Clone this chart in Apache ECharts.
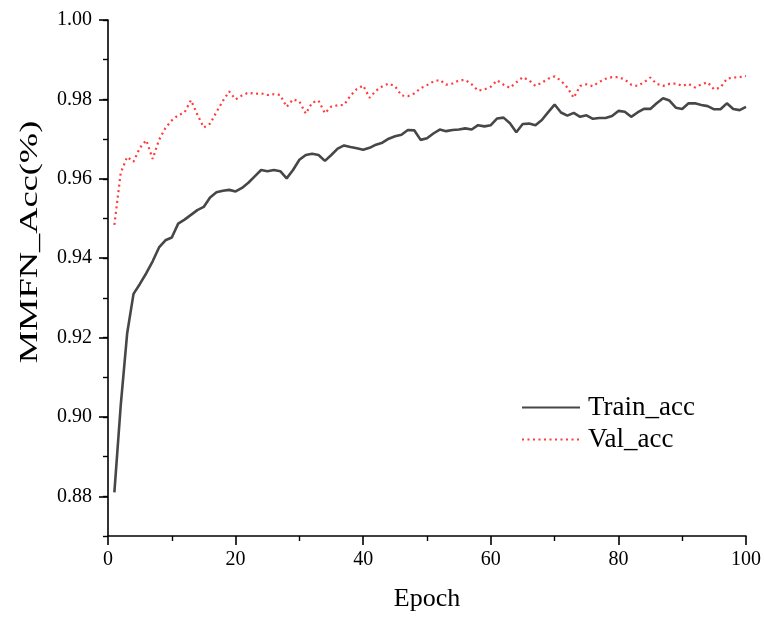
<!DOCTYPE html>
<html>
<head>
<meta charset="utf-8">
<title>MMFN accuracy</title>
<script src="https://cdn.jsdelivr.net/npm/echarts@6/dist/echarts.min.js"></script>
<style>
  html, body { margin: 0; padding: 0; background: #fff; }
  #chart { width: 764px; height: 619px; }
</style>
</head>
<body>
<div id="chart"></div>
<script>
// Training / validation accuracy per epoch
const trainAcc = [
  0.881, 0.903, 0.921, 0.931, 0.9335, 0.9362, 0.9392, 0.9427, 0.9445, 0.9452,
  0.9487, 0.9497, 0.9509, 0.9521, 0.9529, 0.9553, 0.9566, 0.9570, 0.9572, 0.9568,
  0.9577, 0.9590, 0.9606, 0.9622, 0.9619, 0.9622, 0.9619, 0.9601, 0.9622, 0.9648,
  0.9660, 0.9663, 0.9660, 0.9645, 0.9660, 0.9676, 0.9684, 0.9680, 0.9677, 0.9673,
  0.9678, 0.9686, 0.9691, 0.9701, 0.9707, 0.9711, 0.9723, 0.9722, 0.9698, 0.9702,
  0.9714, 0.9724, 0.9720, 0.9723, 0.9724, 0.9727, 0.9724, 0.9735, 0.9732, 0.9735,
  0.9752, 0.9754, 0.9740, 0.9717, 0.9738, 0.9739, 0.9735, 0.9748, 0.9768, 0.9787,
  0.9767, 0.9759, 0.9766, 0.9756, 0.9760, 0.9751, 0.9753, 0.9753, 0.9758, 0.9771,
  0.9769, 0.9756, 0.9767, 0.9776, 0.9776, 0.9790, 0.9803, 0.9797, 0.9779, 0.9776,
  0.9790, 0.9790, 0.9786, 0.9783, 0.9775, 0.9775, 0.9790, 0.9776, 0.9773, 0.9781
];
const valAcc = [
  0.9484, 0.9615, 0.9655, 0.9643, 0.9678, 0.9697, 0.9650, 0.9698, 0.9728, 0.9747,
  0.9760, 0.9767, 0.9798, 0.9762, 0.9729, 0.9739, 0.9768, 0.9796, 0.9820, 0.9800,
  0.9810, 0.9817, 0.9814, 0.9815, 0.9811, 0.9813, 0.9811, 0.9781, 0.9800, 0.9795,
  0.9764, 0.9792, 0.9797, 0.9765, 0.9782, 0.9785, 0.9786, 0.9809, 0.9826, 0.9835,
  0.9804, 0.9822, 0.9833, 0.9840, 0.9833, 0.9810, 0.9808, 0.9815, 0.9828, 0.9836,
  0.9845, 0.9849, 0.9837, 0.9840, 0.9848, 0.9849, 0.9838, 0.9822, 0.9825, 0.9832,
  0.9848, 0.9837, 0.9829, 0.9843, 0.9856, 0.9848, 0.9834, 0.9842, 0.9852, 0.9858,
  0.9847, 0.9830, 0.9804, 0.9834, 0.9838, 0.9833, 0.9844, 0.9852, 0.9856, 0.9856,
  0.9850, 0.9837, 0.9834, 0.9843, 0.9855, 0.9839, 0.9834, 0.9839, 0.9840, 0.9834,
  0.9839, 0.9830, 0.9838, 0.9843, 0.9825, 0.9830, 0.9852, 0.9855, 0.9856, 0.9859
];
const epochs = trainAcc.map((_, i) => i + 1);
const yTickLabels = [0.88, 0.90, 0.92, 0.94, 0.96, 0.98, 1.00];
const seriesNames = ['Train_acc', 'Val_acc'];
const yTitle = 'MMFN_Acc(%)';

const FONT = '"Liberation Serif", "Times New Roman", serif';
const chart = echarts.init(document.getElementById('chart'), null, { renderer: 'canvas' });

const yRange = { min: 0.87, max: 1.0 };

chart.setOption({
  backgroundColor: '#ffffff',
  animation: false,
  grid: { left: 108, right: 17, top: 20, bottom: 83 },
  // vertical y-axis title, drawn a little taller than the tick font
  graphic: [{
    type: 'text',
    x: 30,
    y: 242,
    rotation: Math.PI / 2,
    scaleX: 1.4,
    style: {
      text: yTitle,
      font: '26px "Liberation Serif", "Times New Roman", serif',
      fill: '#000',
      align: 'center',
      verticalAlign: 'middle'
    }
  }],
  legend: {
    orient: 'vertical',
    left: 516,
    top: 389,
    itemWidth: 58,
    itemHeight: 14,
    itemGap: 5,
    data: seriesNames,
    itemStyle: { opacity: 0 },
    textStyle: { fontFamily: FONT, fontSize: 27, color: '#000', padding: [0, 0, 0, 3] }
  },
  xAxis: {
    type: 'value',
    min: 0,
    max: 100,
    interval: 20,
    name: 'Epoch',
    nameLocation: 'middle',
    nameGap: 50,
    nameTextStyle: { fontFamily: FONT, fontSize: 26, color: '#000' },
    axisLine: { show: true, onZero: false, lineStyle: { color: '#000', width: 1.6 } },
    axisTick: { show: true, inside: false, length: 9, lineStyle: { color: '#000', width: 1.6 } },
    minorTick: { show: true, splitNumber: 2, length: 5, lineStyle: { color: '#000', width: 1.4 } },
    axisLabel: { margin: 14, fontFamily: FONT, fontSize: 20, color: '#000' },
    splitLine: { show: false }
  },
  yAxis: [
    {
      // minor ticks every 0.01 along the left axis line
      type: 'value',
      min: yRange.min,
      max: yRange.max,
      interval: 0.01,
      position: 'left',
      axisLine: { show: true, onZero: false, lineStyle: { color: '#000', width: 1.6 } },
      axisTick: { show: true, inside: false, length: 5, lineStyle: { color: '#000', width: 1.4 } },
      axisLabel: { show: false },
      splitLine: { show: false }
    },
    {
      // labelled major ticks
      type: 'value',
      min: yRange.min,
      max: yRange.max,
      position: 'left',
      axisLine: { show: false },
      axisTick: {
        show: true, inside: false, length: 9,
        customValues: yTickLabels,
        lineStyle: { color: '#000', width: 1.6 }
      },
      axisLabel: {
        show: true, margin: 16,
        customValues: yTickLabels,
        formatter: v => v.toFixed(2),
        fontFamily: FONT, fontSize: 20, color: '#000'
      },
      splitLine: { show: false }
    }
  ],
  series: [
    {
      name: seriesNames[0],
      type: 'line',
      yAxisIndex: 0,
      data: epochs.map((e, i) => [e, trainAcc[i]]),
      showSymbol: false,
      symbol: 'none',
      lineStyle: { color: '#474747', width: 2.6 },
      itemStyle: { color: '#474747' }
    },
    {
      name: seriesNames[1],
      type: 'line',
      yAxisIndex: 0,
      data: epochs.map((e, i) => [e, valAcc[i]]),
      showSymbol: false,
      symbol: 'none',
      lineStyle: { color: '#ff3b3b', width: 2.2, type: [2, 3.5] },
      itemStyle: { color: '#ff3b3b' }
    }
  ]
});
</script>
</body>
</html>
